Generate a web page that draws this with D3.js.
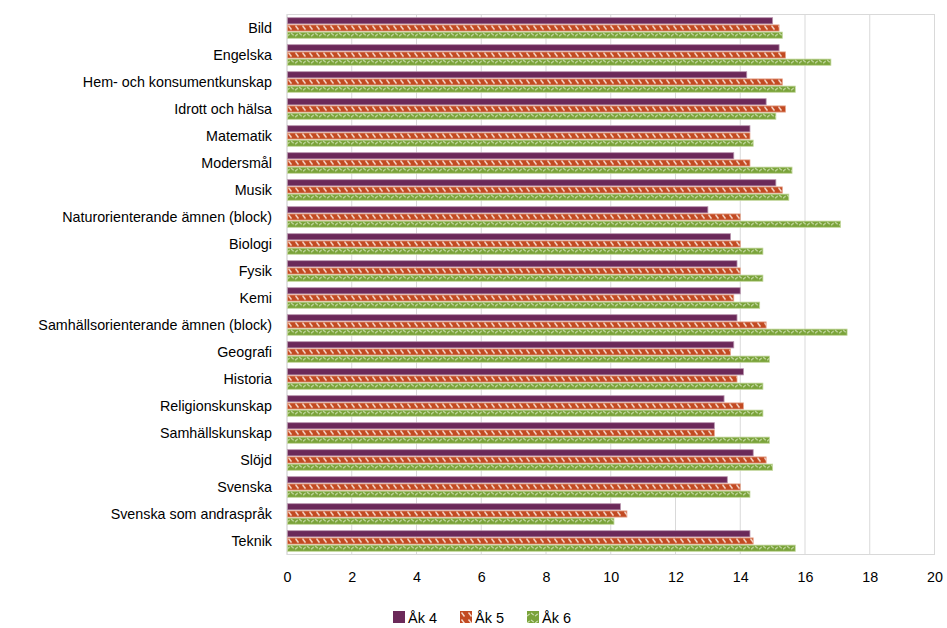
<!DOCTYPE html>
<html>
<head>
<meta charset="utf-8">
<script src="https://cdn.jsdelivr.net/npm/d3@7"></script>
<style>
    body { margin: 0; background: #fff; }
    svg { display: block; font-family: "Liberation Sans", Arial, sans-serif; }
    .axis text { font-size: 14.3px; fill: #000; }
    .legend text { font-size: 14.5px; fill: #000; }
</style>
</head>
<body>
<div id="chart"></div>
<script>
const subjects = [
    "Bild", "Engelska", "Hem- och konsumentkunskap", "Idrott och hälsa", "Matematik",
    "Modersmål", "Musik", "Naturorienterande ämnen (block)", "Biologi", "Fysik", "Kemi",
    "Samhällsorienterande ämnen (block)", "Geografi", "Historia", "Religionskunskap",
    "Samhällskunskap", "Slöjd", "Svenska", "Svenska som andraspråk", "Teknik"
];
const seriesNames = ["Åk 4", "Åk 5", "Åk 6"];
const ak4 = [15.0, 15.2, 14.2, 14.8, 14.3, 13.8, 15.1, 13.0, 13.7, 13.9, 14.0, 13.9, 13.8, 14.1, 13.5, 13.2, 14.4, 13.6, 10.3, 14.3];
const ak5 = [15.2, 15.4, 15.3, 15.4, 14.3, 14.3, 15.3, 14.0, 14.0, 14.0, 13.8, 14.8, 13.7, 13.9, 14.1, 13.2, 14.8, 14.0, 10.5, 14.4];
const ak6 = [15.3, 16.8, 15.7, 15.1, 14.4, 15.6, 15.5, 17.1, 14.7, 14.7, 14.6, 17.3, 14.9, 14.7, 14.7, 14.9, 15.0, 14.3, 10.1, 15.7];
const xTicks = [0, 2, 4, 6, 8, 10, 12, 14, 16, 18, 20];

const W = 947, H = 628;
const margin = { top: 14.5, right: 12, bottom: 73.5, left: 287 };
const width = W - margin.left - margin.right;
const height = H - margin.top - margin.bottom;

const svg = d3.select("#chart").append("svg")
    .attr("width", W)
    .attr("height", H);

// fill patterns, roughly like the office ones
const defs = svg.append("defs");

const pOrange = defs.append("pattern")
    .attr("id", "pat-orange")
    .attr("patternUnits", "userSpaceOnUse")
    .attr("width", 7).attr("height", 7);
pOrange.append("rect").attr("width", 7).attr("height", 7).attr("fill", "#c24a22");
pOrange.append("path")
    .attr("d", "M1.5,1.5 L4.5,5.5")
    .attr("stroke", "#f6dccf").attr("stroke-width", 1.4);

const pGreen = defs.append("pattern")
    .attr("id", "pat-green")
    .attr("patternUnits", "userSpaceOnUse")
    .attr("width", 16).attr("height", 7);
pGreen.append("rect").attr("width", 16).attr("height", 7).attr("fill", "#7aa33a");
pGreen.append("path")
    .attr("d", "M0,5.2 L4,1.8 L8,5.2 L12,1.8 L16,5.2")
    .attr("fill", "none")
    .attr("stroke", "#d3e3b8").attr("stroke-width", 1.1)
    .attr("stroke-dasharray", "3.5,1.8");

const fills = ["#6b2959", "url(#pat-orange)", "url(#pat-green)"];
const strokes = ["#b793ac", "#e6a58d", "#c3d89d"];

const g = svg.append("g")
    .attr("transform", `translate(${margin.left},${margin.top})`);

const x = d3.scaleLinear()
    .domain([0, 20])
    .range([0, width - 0.5]);

const y = d3.scaleBand()
    .domain(subjects)
    .range([0, height])
    .paddingInner(0.2)
    .paddingOuter(0.1);

const ySub = d3.scaleBand()
    .domain(seriesNames)
    .range([0, y.bandwidth()]);

// gridlines
g.append("g")
    .selectAll("line")
    .data(xTicks)
    .enter()
    .append("line")
    .attr("x1", d => x(d))
    .attr("x2", d => x(d))
    .attr("y1", 0)
    .attr("y2", height)
    .attr("stroke", "#d9d9d9");

g.append("rect")
    .attr("x", 0)
    .attr("y", 0)
    .attr("width", x(20))
    .attr("height", height)
    .attr("fill", "none")
    .attr("stroke", "#d9d9d9");

const rows = subjects.map((s, i) => ({ subject: s, values: [ak4[i], ak5[i], ak6[i]] }));

const group = g.selectAll(".row")
    .data(rows)
    .enter()
    .append("g")
    .attr("class", "row")
    .attr("transform", d => `translate(0,${y(d.subject)})`);

group.selectAll("rect")
    .data(d => d.values.map((v, k) => ({ series: seriesNames[k], value: v, k })))
    .enter()
    .append("rect")
    .attr("x", 0.5)
    .attr("y", d => ySub(d.series) + 0.5)
    .attr("width", d => x(d.value) - 0.5)
    .attr("height", ySub.bandwidth() - 1)
    .attr("fill", d => fills[d.k])
    .attr("stroke", d => strokes[d.k])
    .attr("stroke-width", 0.8);

// axes
const xAxis = g.append("g")
    .attr("class", "axis")
    .attr("transform", `translate(0,${height})`)
    .call(d3.axisBottom(x).tickValues(xTicks).tickSize(0).tickPadding(17));
xAxis.select(".domain").remove();

const yAxis = g.append("g")
    .attr("class", "axis")
    .call(d3.axisLeft(y).tickSize(0).tickPadding(15));
yAxis.select(".domain").remove();

// legend
const legend = svg.append("g").attr("class", "legend");
const legendX = [393, 460, 527];
seriesNames.forEach((name, k) => {
    const item = legend.append("g").attr("transform", `translate(${legendX[k]},611)`);
    item.append("rect")
        .attr("width", 12)
        .attr("height", 12)
        .attr("fill", fills[k]);
    item.append("text")
        .attr("x", 15)
        .attr("y", 12)
        .text(name);
});
</script>
</body>
</html>
